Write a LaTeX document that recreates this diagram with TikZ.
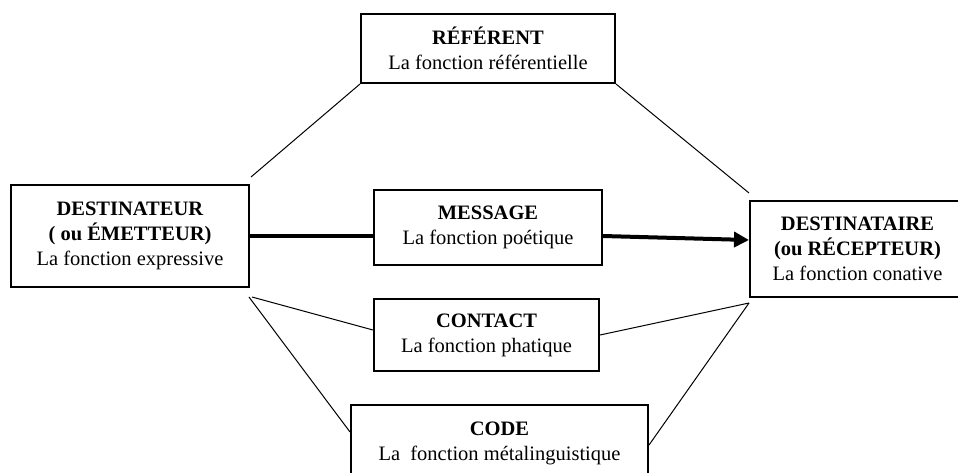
\documentclass[tikz,border=0pt]{standalone}
\usepackage{fontspec}
\setmainfont{Liberation Serif}
\usetikzlibrary{calc,arrows.meta}
\begin{document}
\begin{tikzpicture}[x=1pt,y=-1pt,
  box/.style={draw, line width=2pt, align=center, inner sep=0pt, font=\fontsize{20.5}{25}\selectfont},
  thinline/.style={line width=1pt},
  thickline/.style={line width=4pt}]
\useasboundingbox (0,0) rectangle (958,472);
\clip (0,0) rectangle (958,472);
\node[box, minimum width=254pt, minimum height=69pt] (ref) at (488,48.5) {\textbf{RÉFÉRENT}\\La fonction référentielle};
\node[box, minimum width=238pt, minimum height=102pt] (dst) at (130,236) {\textbf{DESTINATEUR}\\\textbf{( ou ÉMETTEUR)}\\La fonction expressive};
\node[box, minimum width=215pt, minimum height=96pt] (dsr) at (857.5,249) {\textbf{DESTINATAIRE}\\\textbf{(ou RÉCEPTEUR)}\\La fonction conative};
\node[box, minimum width=228pt, minimum height=75pt] (msg) at (488,227.5) {\textbf{MESSAGE}\\La fonction poétique};
\node[box, minimum width=225pt, minimum height=72pt] (cnt) at (486.5,335) {\textbf{CONTACT}\\La fonction phatique};
\node[box, minimum width=297pt, minimum height=76pt] (code) at (499.5,443) {\textbf{CODE}\\La~~fonction métalinguistique};
\draw[thinline] (ref.south west) -- ($(dst.north east)+(1,-7)$);
\draw[thinline] (ref.south east) -- ($(dsr.north west)+(0,-7)$);
\draw[thickline] (dst.east) -- (msg.west |- dst.east);
\draw[thickline,-{Triangle[length=15pt,width=15pt]}] (msg.east |- dst.east) -- ($(dsr.west)+(0,-9)$);
\draw[thinline] ($(dst.south east)+(2,9)$) -- ($(cnt.west)+(0,-5)$);
\draw[thinline] ($(dst.south east)+(-1,9)$) -- ($(code.west)+(0,-11)$);
\draw[thinline] (cnt.east) -- ($(dsr.south west)+(0,5)$);
\draw[thinline] ($(code.east)+(0,2)$) -- ($(dsr.south west)+(0,5)$);
\end{tikzpicture}
\end{document}
